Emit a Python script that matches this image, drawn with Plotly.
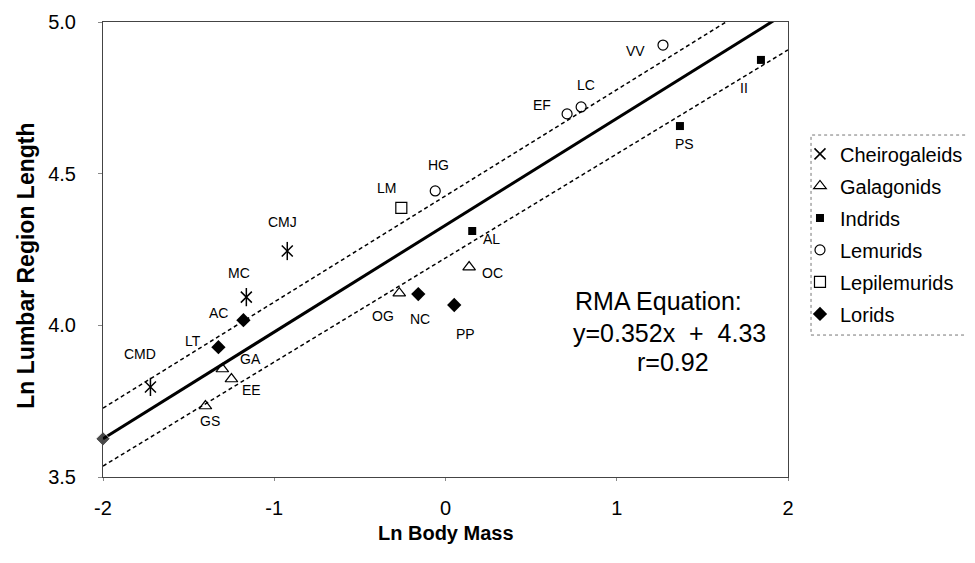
import plotly.graph_objects as go

# ---- data ----
groups = ["Cheirogaleids", "Galagonids", "Indrids", "Lemurids", "Lepilemurids", "Lorids"]

cheiro_names = ["CMD", "MC", "CMJ"]
cheiro_x = [-1.723, -1.163, -0.924]
cheiro_y = [3.797, 4.093, 4.245]

galago_names = ["GA", "EE", "GS", "OG", "OC"]
galago_x = [-1.303, -1.250, -1.402, -0.270, 0.138]
galago_y = [3.856, 3.823, 3.734, 4.106, 4.192]

indrid_names = ["AL", "PS", "II"]
indrid_x = [0.156, 1.369, 1.842]
indrid_y = [4.311, 4.657, 4.875]

lemur_names = ["HG", "EF", "LC", "VV"]
lemur_x = [-0.060, 0.710, 0.792, 1.270]
lemur_y = [4.443, 4.697, 4.720, 4.924]

lepi_names = ["LM"]
lepi_x = [-0.258]
lepi_y = [4.387]

lorid_names = ["AC", "LT", "NC", "PP"]
lorid_x = [-1.180, -1.326, -0.159, 0.051]
lorid_y = [4.017, 3.928, 4.103, 4.067]

# RMA regression and bands
rma_slope = 0.352
rma_intercept = 4.33
line_x = [-2, 2]
upper_x = [-2, 1.638]
upper_y = [3.727, 5.0]
lower_x = [-2, 2]
lower_y = [3.536, 4.908]

x_ticks = [-2, -1, 0, 1, 2]
y_ticks = [3.5, 4.0, 4.5, 5.0]

# label offsets (pixels): (dx, dy) with dy positive downward
label_offsets = {
    "CMD": (-10, -33), "MC": (-7, -24), "CMJ": (-5, -29),
    "GA": (28, -10), "EE": (20, 11), "GS": (5, 15), "OG": (-16, 23), "OC": (23, 6),
    "AL": (19, 8), "PS": (5, 18), "II": (-17, 28),
    "HG": (3, -26), "EF": (-25, -9), "LC": (5, -22), "VV": (-27, 6),
    "LM": (-15, -20),
    "AC": (-25, -7), "LT": (-25, -6), "NC": (2, 25), "PP": (11, 29),
}

FONT = "Liberation Sans, Arial, sans-serif"
NARROW = "Liberation Sans Narrow, Arial Narrow, Liberation Sans, sans-serif"

fig = go.Figure()

# regression line
line_y = [rma_slope * v + rma_intercept for v in line_x]
fig.add_trace(go.Scatter(x=line_x, y=line_y, mode="lines+markers", cliponaxis=False,
                         line=dict(color="black", width=3),
                         marker=dict(symbol="diamond", size=[11, 0], color="black"),
                         showlegend=False, hoverinfo="skip"))
fig.add_trace(go.Scatter(x=upper_x, y=upper_y, mode="lines",
                         line=dict(color="black", width=1.5, dash="4px,3px"),
                         showlegend=False, hoverinfo="skip"))
fig.add_trace(go.Scatter(x=lower_x, y=lower_y, mode="lines",
                         line=dict(color="black", width=1.5, dash="4px,3px"),
                         showlegend=False, hoverinfo="skip"))

series = [
    ("Cheirogaleids", cheiro_x, cheiro_y, dict(symbol="x-thin-open", size=11, color="black", line=dict(width=1.5, color="black"))),
    ("Galagonids", galago_x, galago_y, dict(symbol="triangle-up-open", size=11, color="black", line=dict(width=1.2, color="black"))),
    ("Indrids", indrid_x, indrid_y, dict(symbol="square", size=8, color="black")),
    ("Lemurids", lemur_x, lemur_y, dict(symbol="circle-open", size=10, color="black", line=dict(width=1.2, color="black"))),
    ("Lepilemurids", lepi_x, lepi_y, dict(symbol="square-open", size=11, color="black", line=dict(width=1.2, color="black"))),
    ("Lorids", lorid_x, lorid_y, dict(symbol="diamond", size=11, color="black")),
]
for i, (name, xs, ys, mk) in enumerate(series):
    fig.add_trace(go.Scatter(x=xs, y=ys, mode="markers", name=name, marker=mk,
                             legendgroup=name, legendrank=i + 1))

# vertical stroke to make the asterisk for Cheirogaleids
fig.add_trace(go.Scatter(x=cheiro_x, y=cheiro_y, mode="markers", showlegend=False,
                         marker=dict(symbol="line-ns-open", size=13, color="black",
                                     line=dict(width=1.5, color="black")),
                         hoverinfo="skip"))

annotations = []
all_names = cheiro_names + galago_names + indrid_names + lemur_names + lepi_names + lorid_names
all_x = cheiro_x + galago_x + indrid_x + lemur_x + lepi_x + lorid_x
all_y = cheiro_y + galago_y + indrid_y + lemur_y + lepi_y + lorid_y
for n, xv, yv in zip(all_names, all_x, all_y):
    dx, dy = label_offsets[n]
    annotations.append(dict(x=xv, y=yv, xref="x", yref="y", text=n, showarrow=False,
                            xshift=dx, yshift=-dy,
                            font=dict(family=NARROW, size=14, color="black")))

# RMA text
annotations += [
    dict(x=0.686, y=0.387, xref="paper", yref="paper", xanchor="left", yanchor="middle",
         text="RMA Equation:", showarrow=False, font=dict(family=FONT, size=25, color="black")),
    dict(x=0.683, y=0.3165, xref="paper", yref="paper", xanchor="left", yanchor="middle",
         text="y=0.352x\u00a0\u00a0+\u00a0\u00a04.33", showarrow=False, font=dict(family=FONT, size=25, color="black")),
    dict(x=0.832, y=0.2527, xref="paper", yref="paper", xanchor="center", yanchor="middle",
         text="r=0.92", showarrow=False, font=dict(family=FONT, size=25, color="black")),
]
# axis titles
annotations += [
    dict(x=0.5, y=-0.095, xref="paper", yref="paper", xanchor="center", yanchor="top",
         text="<b>Ln Body Mass</b>", showarrow=False, font=dict(family=FONT, size=20, color="black")),
    dict(x=-0.112, y=0.465, xref="paper", yref="paper", xanchor="center", yanchor="middle", textangle=-90,
         text="<b>Ln Lumbar Region Length</b>", showarrow=False, font=dict(family=FONT, size=23, color="black")),
]

fig.update_layout(
    width=975, height=563,
    margin=dict(l=95, r=195, t=14, b=94, autoexpand=False),
    plot_bgcolor="white", paper_bgcolor="white",
    font=dict(family=FONT, size=20, color="black"),
    annotations=annotations,
    legend=dict(x=1.0175, y=0.753, xanchor="left", yanchor="top",
                font=dict(family=FONT, size=20, color="black"),
                tracegroupgap=3, traceorder="grouped",
                bgcolor="rgba(0,0,0,0)", itemwidth=30),
    shapes=[dict(type="rect", xref="paper", yref="paper",
                 x0=1.0336, x1=1.276, y0=0.312, y1=0.7516,
                 line=dict(color="#777", width=1, dash="dot"))],
)
fig.update_xaxes(range=[-2, 2], tickvals=x_ticks, ticktext=[str(v) for v in x_ticks],
                 showgrid=False, zeroline=False, showline=True, mirror=True,
                 linecolor="#444", linewidth=1, ticks="outside", ticklen=3, tickcolor="#888",
                 ticklabelstandoff=10, tickfont=dict(size=20))
fig.update_yaxes(range=[3.5, 5.0], tickvals=y_ticks, ticktext=[f"{v:.1f}" for v in y_ticks],
                 showgrid=False, zeroline=False, showline=True, mirror=True,
                 linecolor="#444", linewidth=1, ticks="outside", ticklen=4, tickcolor="#888",
                 ticklabelstandoff=18, tickfont=dict(size=20))

fig.write_html("out.html")
